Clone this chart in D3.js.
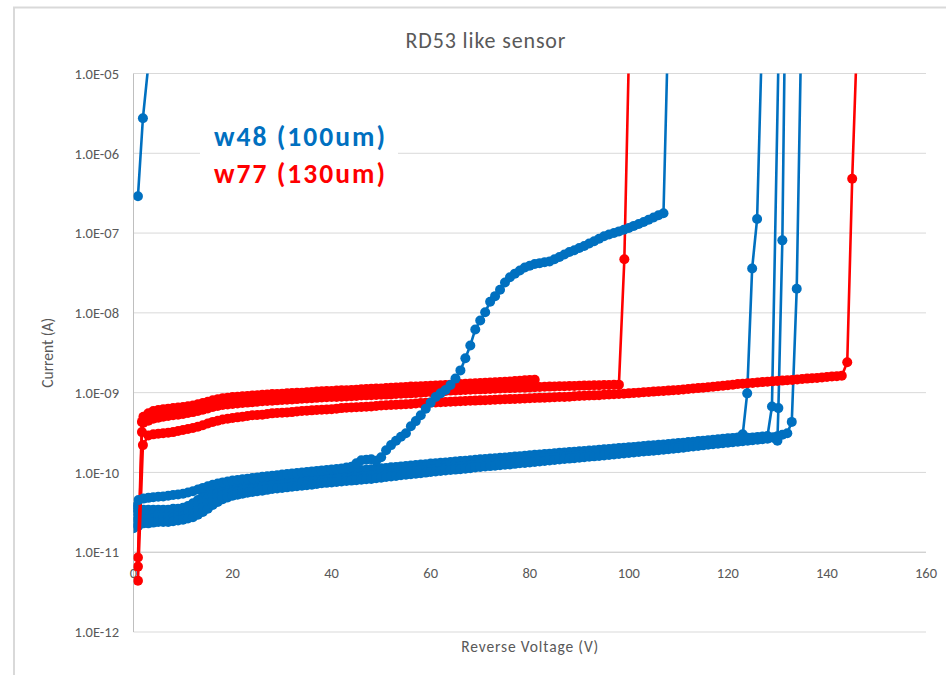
<!DOCTYPE html>
<html>
<head>
<meta charset="utf-8">
<script src="https://cdn.jsdelivr.net/npm/d3@7/dist/d3.min.js"></script>
<style>
  html, body { margin: 0; padding: 0; background: #fff; }
  svg { display: block; }
  text { font-family: Carlito, Calibri, Lato, sans-serif; }
</style>
</head>
<body>
<svg id="chart" width="946" height="675"></svg>
<script>
// ---------------- DATA ----------------
const title = "RD53 like sensor";
const xLabel = "Reverse Voltage (V)";
const yLabel = "Current (A)";
const legendLabels = ["w48 (100um)", "w77 (130um)"];
const xTicks = [0, 20, 40, 60, 80, 100, 120, 140, 160];
const yTicks = [1e-12, 1e-11, 1e-10, 1e-9, 1e-8, 1e-7, 1e-6, 1e-5];
const yTickLabels = ["1.0E-12", "1.0E-11", "1.0E-10", "1.0E-09", "1.0E-08", "1.0E-07", "1.0E-06", "1.0E-05"];

// voltage steps of the sweeps (V)
const gridV = [0,1,2,3,4,5,6,7,8,9,10,11,12,13,14,15,16,17,18,19,20,21,22,23,24,25,26,27,28,29,30,
  31,32,33,34,35,36,37,38,39,40,41,42,43,44,45,46,47,48,49,50,51,52,53,54,55,56,57,58,59,60,
  61,62,63,64,65,66,67,68,69,70,71,72,73,74,75,76,77,78,79,80,81,82,83,84,85,86,87,88,89,90,
  91,92,93,94,95,96,97,98,99,100,101,102,103,104,105,106,107,108,109,110,111,112,113,114,115,116,117,118,119,120,
  121,122,123,124,125,126,127,128,129,130,131,132,133,134,135,136,137,138,139,140,141,142,143,144,145,146];

// ---- w48 (blue) sensors: currents in units of 1e-11 A, sweep from 0 V ----
const w48aI = [3.6,3.5,3.4,3.4,3.4,3.4,3.4,3.4,3.5,3.5, 3.6,3.8,4.1,4.5,5.0,5.5,6.0,6.4,6.7,7.0,
  7.2,7.3,7.5,7.6,7.8,7.9,8.0,8.1,8.3,8.4, 8.5,8.6,8.8,8.9,9.1,9.2,9.4,9.5,9.6,9.7,
  9.9,10.0,10.1,10.2,10.4,10.5,10.7,10.8,11.0,11.1, 11.3,11.4,11.6,11.7,11.9,12.0,12.2,12.4,12.6,12.7,
  12.9,13.0,13.2,13.3,13.5,13.7,13.9,14.0,14.2,14.4, 14.6,14.7,14.9,15.1,15.3,15.4,15.6,15.8,16.0,16.2,
  16.4,16.6,16.8,17.0,17.2,17.4,17.6,17.8,18.0,18.2, 18.4,18.6,18.8,19.0,19.3,19.5,19.7,19.9,20.2,20.4,
  20.7,20.9,21.2,21.4,21.7,21.9,22.2,22.4,22.7,23.0, 23.3,23.6,24.0,24.3,24.7,25.0,25.4,25.7,26.1,26.4,
  26.8,27.1,27.5];
const w48aTailV = [123.0, 123.9, 124.9, 125.9, 126.9];
const w48aTailI = [3.0e-10, 9.8e-10, 3.6e-8, 1.5e-7, 3e-5];

const w48bI = [2.9,3.0,3.0,3.0,3.0,3.0,3.0,3.0,3.0,3.1, 3.2,3.3,3.5,3.9,4.3,4.8,5.2,5.6,5.9,6.2,
  6.4,6.6,6.7,6.9,7.0,7.1,7.2,7.4,7.5,7.6, 7.7,7.9,8.0,8.1,8.2,8.4,8.5,8.6,8.7,8.9,
  9.0,9.1,9.2,9.4,9.5,9.6,9.7,9.9,10.0,10.2, 10.3,10.5,10.6,10.8,10.9,11.1,11.2,11.4,11.6,11.8,
  11.9,12.1,12.2,12.4,12.5,12.7,12.9,13.1,13.2,13.4, 13.6,13.8,13.9,14.1,14.3,14.5,14.6,14.8,15.0,15.2,
  15.4,15.6,15.8,16.0,16.2,16.4,16.6,16.8,17.0,17.2, 17.4,17.6,17.8,18.0,18.3,18.5,18.7,18.9,19.2,19.4,
  19.7,19.9,20.2,20.4,20.7,20.9,21.2,21.4,21.7,22.0, 22.3,22.6,23.0,23.3,23.7,24.0,24.4,24.7,25.1,25.4,
  25.8,26.1,26.5,26.8,27.2,27.5,27.9,28.2,28.6];
const w48bTailV = [128.9, 130.3];
const w48bTailI = [6.7e-10, 3e-5];

const w48cI = [2.4,2.5,2.6,2.6,2.65,2.7,2.7,2.7,2.75,2.8, 2.85,2.95,3.1,3.4,3.7,4.1,4.5,4.9,5.2,5.5,
  5.7,5.85,6.0,6.15,6.3,6.4,6.5,6.65,6.8,6.9, 7.0,7.1,7.2,7.35,7.5,7.6,7.7,7.8,7.9,8.05,
  8.2,8.3,8.4,8.5,8.6,8.75,8.9,9.0,9.1,9.25, 9.4,9.55,9.7,9.85,10.0,10.15,10.3,10.45,10.6,10.75,
  10.9,11.05,11.2,11.35,11.5,11.7,11.9,12.05,12.2,12.35, 12.5,12.65,12.8,13.0,13.2,13.35,13.5,13.7,13.9,14.1,
  14.3,14.5,14.7,14.9,15.1,15.3,15.5,15.7,15.9,16.1, 16.3,16.5,16.7,16.9,17.1,17.3,17.5,17.75,18.0,18.25,
  18.5,18.75,19.0,19.25,19.5,19.75,20.0,20.25,20.5,20.8, 21.1,21.45,21.8,22.15,22.5,22.85,23.2,23.55,23.9,24.25,
  24.6,24.95,25.3,25.65,26.0,26.35,26.7,27.05,27.4];
const w48cTailV = [129.2, 130.0, 130.2, 131.0, 131.5];
const w48cTailI = [2.75e-10, 2.5e-10, 6.4e-10, 8.1e-8, 3e-5];

const w48dI = [2.0,2.15,2.3,2.3,2.35,2.4,2.4,2.4,2.45,2.5, 2.55,2.65,2.75,2.95,3.2,3.5,3.9,4.25,4.6,4.85,
  5.1,5.25,5.4,5.55,5.7,5.8,5.9,6.05,6.2,6.3, 6.4,6.5,6.6,6.7,6.8,6.9,7.0,7.15,7.3,7.4,
  7.5,7.6,7.7,7.8,7.9,8.0,8.1,8.2,8.3,8.45, 8.6,8.75,8.9,9.05,9.2,9.35,9.5,9.65,9.8,9.95,
  10.1,10.25,10.4,10.55,10.7,10.85,11.0,11.15,11.3,11.5, 11.7,11.85,12.0,12.15,12.3,12.45,12.6,12.8,13.0,13.15,
  13.3,13.5,13.7,13.9,14.1,14.3,14.5,14.7,14.9,15.1, 15.3,15.5,15.7,15.9,16.1,16.3,16.5,16.75,17.0,17.25,
  17.5,17.75,18.0,18.25,18.5,18.75,19.0,19.25,19.5,19.8, 20.1,20.45,20.8,21.15,21.5,21.85,22.2,22.55,22.9,23.25,
  23.6,23.95,24.3,24.65,25.0,25.35,25.7,26.05,26.4,27.4, 28.5,29.7,31.0];
const w48dTailV = [132.9, 133.9, 134.8];
const w48dTailI = [4.3e-10, 2.0e-8, 3e-5];

// early-breakdown sensor (A)
const w48eV = [0.9, 1.9, 3.6];
const w48eI = [2.9e-7, 2.75e-6, 3e-5];

// sensor with soft breakdown from ~50 V: 0-50 V in 1e-11 A, then 51-107 V in A
const w48fLowI = [3.7,4.5,4.7,4.8,4.9,4.95,5.0,5.1,5.2,5.3, 5.4,5.6,5.8,6.1,6.4,6.7,7.0,7.25,7.5,7.7,
  7.9,8.05,8.2,8.35,8.5,8.65,8.8,8.95,9.1,9.25, 9.4,9.55,9.7,9.85,10.0,10.15,10.3,10.45,10.6,10.75,
  10.9,11.05,11.2,11.5,11.8,13.0,14.2,14.4,14.6,14.0, 15.5];
const w48fHighI = [1.9e-10,2.2e-10,2.5e-10,2.8e-10,3.1e-10,3.8e-10,4.4e-10,5.2e-10,6.3e-10,7.5e-10,
  8.8e-10,9.8e-10,1.08e-9,1.25e-9,1.5e-9,1.9e-9,2.7e-9,3.9e-9,6.2e-9,8.0e-9,
  1.02e-8,1.38e-8,1.62e-8,1.95e-8,2.4e-8,2.8e-8,3.1e-8,3.4e-8,3.7e-8,3.9e-8,
  4.1e-8,4.2e-8,4.3e-8,4.4e-8,4.7e-8,5.0e-8,5.4e-8,5.8e-8,6.1e-8,6.5e-8,
  6.9e-8,7.4e-8,7.9e-8,8.5e-8,9.1e-8,9.6e-8,1.0e-7,1.05e-7,1.1e-7,1.16e-7,
  1.23e-7,1.3e-7,1.38e-7,1.47e-7,1.57e-7,1.67e-7,1.77e-7]; // 51..107 V
const w48fTailV = [107.9];
const w48fTailI = [3e-5];

// ---- w77 (red) sensors: currents in units of 1e-10 A ----
const w77aHeadV = [0.9, 1.7];
const w77aHeadI = [0.086, 4.3];
const w77aI = [5.0,5.5,5.9,6.05,6.2,6.3,6.4,6.5,6.6,6.75, 6.9,7.15,7.4,7.7,8.0,8.25,8.5,8.65,8.8,8.9,
  9.0,9.1,9.2,9.3,9.4,9.5,9.6,9.65,9.7,9.8, 9.9,9.95,10.0,10.1,10.2,10.3,10.4,10.45,10.5,10.6,
  10.7,10.75,10.8,10.9,11.0,11.1,11.2,11.25,11.3,11.4, 11.5,11.6,11.7,11.8,11.9,11.95,12.0,12.1,12.2,12.3,
  12.4,12.5,12.6,12.7,12.8,12.9,13.0,13.1,13.2,13.3, 13.4,13.5,13.6,13.7,13.8,13.95,14.1,14.25,14.4,14.5]; // 2..81 V

const w77bHeadV = [0.9, 1.7];
const w77bHeadI = [0.066, 3.2];
const w77bI = [4.2,4.45,4.7,4.85,5.0,5.1,5.2,5.3,5.4,5.55, 5.7,5.9,6.1,6.35,6.6,6.8,7.0,7.1,7.2,7.3,
  7.4,7.5,7.6,7.7,7.8,7.85,7.9,8.0,8.1,8.15, 8.2,8.3,8.4,8.45,8.5,8.6,8.7,8.75,8.8,8.85,
  8.9,8.95,9.0,9.1,9.2,9.25,9.3,9.35,9.4,9.45, 9.5,9.6,9.7,9.75,9.8,9.9,10.0,10.1,10.2,10.3,
  10.4,10.5,10.6,10.65,10.7,10.8,10.9,10.95,11.0,11.05, 11.1,11.2,11.3,11.35,11.4,11.45,11.5,11.55,11.6,11.7,
  11.8,11.85,11.9,11.95,12.0,12.05,12.1,12.15,12.2,12.25, 12.3,12.35,12.4,12.45,12.5,12.55,12.6]; // 2..98 V
const w77bTailV = [99.1, 100.1];
const w77bTailI = [470, 300000];

const w77cHeadV = [0.9, 1.9];
const w77cHeadI = [0.044, 2.2];
const w77cI = [2.9,3.0,3.05,3.1,3.15,3.2,3.3,3.4,3.5,3.6, 3.75,3.9,4.1,4.3,4.45,4.6,4.7,4.8,4.9,5.0,
  5.1,5.2,5.25,5.3,5.4,5.5,5.55,5.6,5.65,5.7, 5.8,5.9,5.95,6.0,6.05,6.1,6.15,6.2,6.3,6.4,
  6.45,6.5,6.55,6.6,6.65,6.7,6.8,6.9,6.95,7.0, 7.05,7.1,7.15,7.2,7.3,7.4,7.45,7.5,7.55,7.6,
  7.65,7.7,7.75,7.8,7.85,7.9,7.95,8.0,8.05,8.1, 8.15,8.2,8.25,8.3,8.35,8.4,8.45,8.5,8.55,8.6,
  8.65,8.7,8.75,8.8,8.85,8.9,9.0,9.1,9.15,9.2, 9.25,9.3,9.4,9.5,9.55,9.6,9.7,9.8,9.9,10.0,
  10.1,10.2,10.3,10.4,10.5,10.6,10.7,10.8,10.95,11.1, 11.25,11.4,11.55,11.7,11.85,12.0,12.2,12.4,12.6,12.8,
  12.95,13.1,13.25,13.4,13.55,13.7,13.85,14.0,14.15,14.3, 14.45,14.6,14.8,15.0,15.15,15.3,15.5,15.7,15.9,16.1,
  16.3]; // 3..143 V
const w77cTailV = [144.1, 145.1, 146.1];
const w77cTailI = [24, 4800, 300000];

const blue = "#0070C0";
const red = "#FF0000";

// ---------------- BUILD SERIES ----------------
function onGrid(startV, vals, unit) {
  const k = gridV.indexOf(startV);
  return vals.map((c, i) => [gridV[k + i], c * unit]);
}
function pairs(vs, is, unit) { return vs.map((v, i) => [v, is[i] * unit]); }

const sW48a = onGrid(0, w48aI, 1e-11).concat(pairs(w48aTailV, w48aTailI, 1));
const sW48b = onGrid(0, w48bI, 1e-11).concat(pairs(w48bTailV, w48bTailI, 1));
const sW48c = onGrid(0, w48cI, 1e-11).concat(pairs(w48cTailV, w48cTailI, 1));
const sW48d = onGrid(0, w48dI, 1e-11).concat(pairs(w48dTailV, w48dTailI, 1));
const sW48e = pairs(w48eV, w48eI, 1);
const sW48f = onGrid(0, w48fLowI, 1e-11).concat(onGrid(51, w48fHighI, 1), pairs(w48fTailV, w48fTailI, 1));
const sW77a = pairs(w77aHeadV, w77aHeadI, 1e-10).concat(onGrid(2, w77aI, 1e-10));
const sW77b = pairs(w77bHeadV, w77bHeadI, 1e-10).concat(onGrid(2, w77bI, 1e-10), pairs(w77bTailV, w77bTailI, 1e-10));
const sW77c = pairs(w77cHeadV, w77cHeadI, 1e-10).concat(onGrid(3, w77cI, 1e-10), pairs(w77cTailV, w77cTailI, 1e-10));

const drawOrder = [
  [sW48a, blue], [sW48b, blue], [sW48c, blue], [sW48d, blue], [sW48e, blue],
  [sW77c, red], [sW77a, red], [sW77b, red],
  [sW48f, blue]
];

// ---------------- LAYOUT ----------------
const svg = d3.select("#chart");
const plot = { left: 133.5, right: 926, top: 73.5, bottom: 632 };

const x = d3.scaleLinear().domain([0, 160]).range([plot.left, plot.right]);
const y = d3.scaleLog().domain([1e-12, 1e-5]).range([plot.bottom, plot.top]);

// chart-area frame (partially visible in the crop)
svg.append("line").attr("x1", 14).attr("x2", 14).attr("y1", 7.5).attr("y2", 675)
  .attr("stroke", "#d9d9d9").attr("stroke-width", 2);
svg.append("line").attr("x1", 13).attr("x2", 946).attr("y1", 7.5).attr("y2", 7.5)
  .attr("stroke", "#d9d9d9").attr("stroke-width", 2);

// gridlines
svg.append("g").selectAll("line").data(yTicks.filter(d => d !== 1e-11)).join("line")
  .attr("x1", plot.left).attr("x2", plot.right)
  .attr("y1", d => y(d)).attr("y2", d => y(d))
  .attr("stroke", "#d9d9d9").attr("stroke-width", 1);

// axis lines: vertical axis, horizontal axis crossing at 1e-11
svg.append("line").attr("x1", plot.left).attr("x2", plot.left).attr("y1", plot.top).attr("y2", plot.bottom)
  .attr("stroke", "#bfbfbf").attr("stroke-width", 1);
svg.append("line").attr("x1", plot.left).attr("x2", plot.right).attr("y1", y(1e-11)).attr("y2", y(1e-11))
  .attr("stroke", "#bfbfbf").attr("stroke-width", 1);

// y tick labels
svg.append("g").selectAll("text").data(yTicks).join("text")
  .attr("x", 119).attr("y", d => y(d)).attr("dy", "0.36em")
  .attr("text-anchor", "end").attr("font-size", 14.5).attr("fill", "#595959")
  .text((d, i) => yTickLabels[i]);

// x tick labels (axis crosses at 1e-11)
svg.append("g").selectAll("text").data(xTicks).join("text")
  .attr("x", d => x(d)).attr("y", y(1e-11) + 25.5)
  .attr("text-anchor", "middle").attr("font-size", 14.5).attr("fill", "#595959")
  .text(d => d);

// titles
svg.append("text").attr("x", 485.5).attr("y", 47.5).attr("text-anchor", "middle")
  .attr("font-size", 22).attr("fill", "#595959")
  .attr("textLength", 160).attr("lengthAdjust", "spacing").text(title);
svg.append("text").attr("x", (plot.left + plot.right) / 2).attr("y", 652).attr("text-anchor", "middle")
  .attr("font-size", 15.5).attr("fill", "#595959")
  .attr("textLength", 137).attr("lengthAdjust", "spacing").text(xLabel);
svg.append("text").attr("transform", `translate(53,${(plot.top + plot.bottom) / 2}) rotate(-90)`)
  .attr("text-anchor", "middle").attr("font-size", 15.5).attr("fill", "#595959")
  .attr("textLength", 70).attr("lengthAdjust", "spacing").text(yLabel);

// data
svg.append("clipPath").attr("id", "clip").append("rect")
  .attr("x", plot.left).attr("y", plot.top)
  .attr("width", plot.right - plot.left).attr("height", plot.bottom - plot.top);
const gData = svg.append("g").attr("clip-path", "url(#clip)");
const line = d3.line().x(d => x(d[0])).y(d => y(d[1]));

drawOrder.forEach(([pts, col]) => {
  const g = gData.append("g");
  g.append("path").attr("d", line(pts)).attr("fill", "none")
    .attr("stroke", col).attr("stroke-width", 2.6).attr("stroke-linejoin", "round");
  g.selectAll("circle").data(pts).join("circle")
    .attr("cx", d => x(d[0])).attr("cy", d => y(d[1])).attr("r", 5).attr("fill", col);
});

// legend text box
svg.append("rect").attr("x", 200).attr("y", 112).attr("width", 198).attr("height", 83).attr("fill", "#fff");
svg.append("text").attr("x", 214).attr("y", 145.5).attr("font-size", 27.5).attr("font-weight", "bold")
  .attr("fill", blue).attr("textLength", 171).attr("lengthAdjust", "spacing").text(legendLabels[0]);
svg.append("text").attr("x", 214).attr("y", 182.5).attr("font-size", 27.5).attr("font-weight", "bold")
  .attr("fill", red).attr("textLength", 171).attr("lengthAdjust", "spacing").text(legendLabels[1]);
</script>
</body>
</html>
